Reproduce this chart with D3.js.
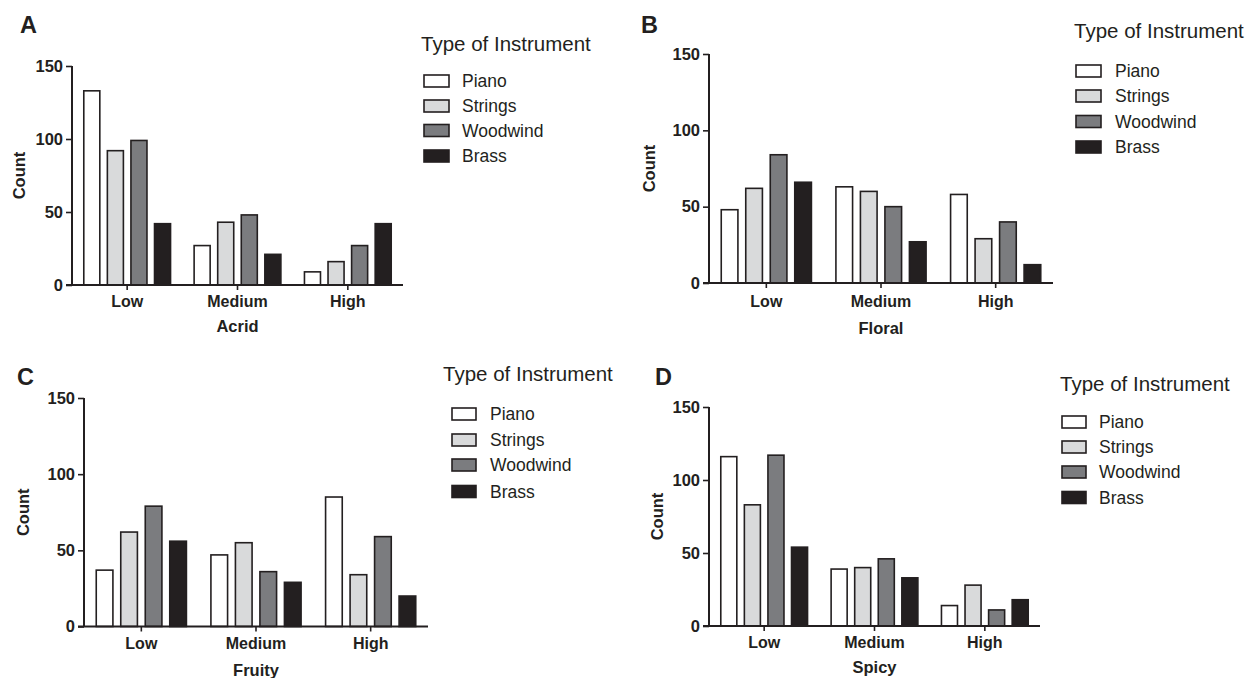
<!DOCTYPE html>
<html>
<head>
<meta charset="utf-8">
<script src="https://cdn.jsdelivr.net/npm/d3@7"></script>
<style>
  html, body { margin: 0; padding: 0; background: #fff; }
  svg { display: block; }
  text { font-family: "Liberation Sans", Arial, Helvetica, sans-serif; fill: #231f20; }
</style>
</head>
<body>
<svg id="chart" width="1254" height="678"></svg>
<script>
// ---------- DATA ----------
const categories = ["Low", "Medium", "High"];
const instruments = ["Piano", "Strings", "Woodwind", "Brass"];
const yTicks = [0, 50, 100, 150];
const legendTitle = "Type of Instrument";

// rows = categories (Low, Medium, High); columns = instruments (Piano, Strings, Woodwind, Brass)
const acridValues  = [[133, 92, 99, 42], [27, 43, 48, 21], [9, 16, 27, 42]];
const floralValues = [[48, 62, 84, 66], [63, 60, 50, 27], [58, 29, 40, 12]];
const fruityValues = [[37, 62, 79, 56], [47, 55, 36, 29], [85, 34, 59, 20]];
const spicyValues  = [[116, 83, 117, 54], [39, 40, 46, 33], [14, 28, 11, 18]];

const panelLetters = ["A", "B", "C", "D"];
const panelTitles = ["Acrid", "Floral", "Fruity", "Spicy"];
const panelValues = [acridValues, floralValues, fruityValues, spicyValues];

// ---------- STYLE / LAYOUT ----------
const fills = ["#ffffff", "#d9dadb", "#7b7c7f", "#231f20"];
const ink = "#231f20";

const layouts = [
  { left: 72,  right: 403,  top: 66,  bottom: 285,   letter: [20, 25],   countX: 19,    catY: 301.7, titleY: 326,
    legend: { titleX: 421, titleY: 43, swX: 424, swW: 25, labelX: 462, ys: [81, 106, 130.5, 156] } },
  { left: 709, right: 1053, top: 54,  bottom: 283,   letter: [641, 25],  countX: 649,   catY: 301.7, titleY: 328,
    legend: { titleX: 1074, titleY: 30, swX: 1076, swW: 25, labelX: 1115, ys: [71, 96, 121.5, 147] } },
  { left: 84,  right: 428,  top: 398, bottom: 626.5, letter: [17, 377],  countX: 22.7,  catY: 643.3, titleY: 670,
    legend: { titleX: 443, titleY: 373.5, swX: 452, swW: 24, labelX: 490, ys: [414, 440, 465, 491.5] } },
  { left: 709, right: 1040, top: 407, bottom: 626,   letter: [655, 377], countX: 656.7, catY: 642.7, titleY: 666.7,
    legend: { titleX: 1060, titleY: 383.5, swX: 1062, swW: 24, labelX: 1099, ys: [422, 447, 472, 497.5] } }
];

const svg = d3.select("#chart");

panelValues.forEach((vals, pi) => {
  const L = layouts[pi];
  const g = svg.append("g");

  const x0 = d3.scaleBand().domain(categories).range([L.left, L.right]).paddingInner(0).paddingOuter(0);
  const x1 = d3.scaleBand().domain(instruments).range([0, x0.bandwidth()]).paddingInner(0.32).paddingOuter(0.5);
  const y = d3.scaleLinear().domain([0, 150]).range([L.bottom, L.top]);

  // bars
  categories.forEach((c, ci) => {
    g.selectAll(null)
      .data(instruments.map((ins, ii) => ({ ins, ii, v: vals[ci][ii] })))
      .enter().append("rect")
      .attr("x", d => x0(c) + x1(d.ins))
      .attr("y", d => y(d.v))
      .attr("width", x1.bandwidth())
      .attr("height", d => y(0) - y(d.v))
      .attr("fill", d => fills[d.ii])
      .attr("stroke", ink)
      .attr("stroke-width", 1.6);
  });

  // y axis
  const yAxis = g.append("g")
    .attr("transform", `translate(${L.left},0)`)
    .call(d3.axisLeft(y).tickValues(yTicks).tickSize(6).tickPadding(3).tickFormat(d3.format("d")));
  yAxis.select(".domain").attr("stroke", ink).attr("stroke-width", 2).attr("d", `M0,${L.top}V${L.bottom}`);
  yAxis.selectAll(".tick line").attr("stroke", ink).attr("stroke-width", 1.6);
  yAxis.selectAll(".tick text")
    .attr("font-family", "Liberation Sans, Arial, sans-serif")
    .attr("font-size", 16.5).attr("font-weight", "bold").attr("fill", ink);

  // x axis
  const xAxis = g.append("g")
    .attr("transform", `translate(0,${L.bottom})`)
    .call(d3.axisBottom(x0).tickSize(5).tickSizeOuter(0).tickFormat(""));
  xAxis.select(".domain").attr("stroke", ink).attr("stroke-width", 2).attr("d", `M${L.left - 6},0H${L.right}`);
  xAxis.selectAll(".tick line").attr("stroke", ink).attr("stroke-width", 1.6);

  // category labels
  g.selectAll(null).data(categories).enter().append("text")
    .attr("x", d => x0(d) + x0.bandwidth() / 2)
    .attr("y", L.catY)
    .attr("text-anchor", "middle").attr("dominant-baseline", "central")
    .attr("font-size", 16).attr("font-weight", "bold")
    .text(d => d);

  // x title
  g.append("text")
    .attr("x", (L.left + L.right) / 2).attr("y", L.titleY)
    .attr("text-anchor", "middle").attr("dominant-baseline", "central")
    .attr("font-size", 16.5).attr("font-weight", "bold")
    .text(panelTitles[pi]);

  // y title
  g.append("text")
    .attr("transform", `translate(${L.countX},${(L.top + L.bottom) / 2}) rotate(-90)`)
    .attr("text-anchor", "middle").attr("dominant-baseline", "central")
    .attr("font-size", 16.5).attr("font-weight", "bold")
    .text("Count");

  // panel letter
  g.append("text")
    .attr("x", L.letter[0]).attr("y", L.letter[1])
    .attr("dominant-baseline", "central")
    .attr("font-size", 23.5).attr("font-weight", "bold")
    .text(panelLetters[pi]);

  // legend
  const lg = L.legend;
  g.append("text")
    .attr("x", lg.titleX).attr("y", lg.titleY)
    .attr("dominant-baseline", "central")
    .attr("font-size", 20.5)
    .text(legendTitle);
  instruments.forEach((ins, ii) => {
    g.append("rect")
      .attr("x", lg.swX).attr("y", lg.ys[ii] - 6)
      .attr("width", lg.swW).attr("height", 12)
      .attr("fill", fills[ii]).attr("stroke", ink).attr("stroke-width", 1.6);
    g.append("text")
      .attr("x", lg.labelX).attr("y", lg.ys[ii])
      .attr("dominant-baseline", "central")
      .attr("font-size", 17.5)
      .text(ins);
  });
});
</script>
</body>
</html>
